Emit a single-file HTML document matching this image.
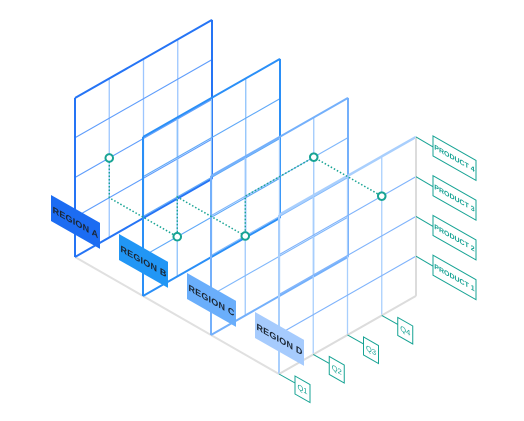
<!DOCTYPE html>
<html><head><meta charset="utf-8">
<style>
html,body{margin:0;padding:0;background:#fff;}
svg{display:block;font-family:"Liberation Sans",sans-serif;}
</style></head>
<body>
<svg id="chart" width="524" height="421" viewBox="0 0 524 421" xmlns="http://www.w3.org/2000/svg">
<g id="floor"></g>
<g id="panels"></g>
<g id="path"></g>
<g id="tags"></g>
<g id="axes"></g>
<g id="points"></g>
</svg>
<script>
const regions = ["REGION A","REGION B","REGION C","REGION D"];
const quarters = ["Q1","Q2","Q3","Q4"];
const products = ["PRODUCT 1","PRODUCT 2","PRODUCT 3","PRODUCT 4"];
// data points: region index, quarter index, product index
const ptRegion = [0,1,2,2,3];
const ptQuarter = [1,1,1,3,3];
const ptProduct = [1,0,1,2,2];

const frameCol = ["#2574f5","#2a8ff7","#74b0fb","#a9cffd"];
const innerColV = ["#9cc6ff","#8cc2fb","#9ec9fc","#a9cffd"];
const innerColH = ["#5f9dfb","#5ea8f8","#7fb7fb","#7fb3fb"];
const tagCol = ["#1c6cf2","#2196f5","#6aaefb","#a6cbfd"];
const teal = "#17a394";
const NS = "http://www.w3.org/2000/svg";
const X0=75, Y0=257, DX=68, DY=39, CW=34.25, SL=0.57, RH=39.75;
function P(n,u,v){return [X0+DX*n+CW*u, Y0+DY*n - SL*CW*u - RH*v];}
function el(tag,attrs,parent){const e=document.createElementNS(NS,tag);for(const k in attrs)e.setAttribute(k,attrs[k]);parent.appendChild(e);return e;}
function line(a,b,st,w,parent,extra){return el("line",Object.assign({x1:a[0],y1:a[1],x2:b[0],y2:b[1],stroke:st,"stroke-width":w},extra||{}),parent);}

const floor=document.getElementById("floor");
const fl=line(P(0,0,0),P(3,0,0),"#e0e0e0",2,floor);



const panels=document.getElementById("panels");
regions.forEach((r,n)=>{
  const g=el("g",{},panels);
  
  
  for(let u=1;u<4;u++) line(P(n,u,0),P(n,u,4),innerColV[n],1.3,g);
  for(let v=1;v<4;v++) line(P(n,0,v),P(n,4,v),innerColH[n],1.1,g);
  const last=n==3;
  line(P(n,0,0),P(n,0,4),frameCol[n],2,g);
  line(P(n,0,4),P(n,4,4),frameCol[n],last?2.5:2,g);
  line(P(n,4,0),P(n,4,4),last?"#dcdcdc":frameCol[n],2,g);
  line(P(n,0,0),P(n,4,0),last?"#dcdcdc":frameCol[n],2,g);
});

const pts=ptRegion.map((r,i)=>[r,ptQuarter[i],ptProduct[i]+1]);
let cur=pts[0];
let d="M"+P(cur[0],cur[1],cur[2]).join(",");
for(let i=1;i<pts.length;i++){
  const nx=pts[i];
  let c=[cur[0],cur[1],cur[2]];
  c[2]=nx[2]; d+=" L"+P(c[0],c[1],c[2]).join(",");
  c[1]=nx[1]; d+=" L"+P(c[0],c[1],c[2]).join(",");
  c[0]=nx[0]; d+=" L"+P(c[0],c[1],c[2]).join(",");
  cur=nx;
}
const pth=el("path",{d:d,fill:"none",stroke:teal,"stroke-width":1.5,"stroke-dasharray":"1.5,2"},document.getElementById("path"));



const tags=document.getElementById("tags");
regions.forEach((r,n)=>{
  const x=51+DX*n, y=195+DY*n, w=49, h=26;
  const g=el("g",{},tags);
  
  
  el("polygon",{points:`${x},${y} ${x+w},${y+w*SL} ${x+w},${y+w*SL+h} ${x},${y+h}`,fill:tagCol[n]},g);
  const t=el("text",{transform:`matrix(1,${SL},0,1,${x+w/2},${y+h/2+w/2*SL+3.5})`,"text-anchor":"middle","font-size":"9","font-weight":"bold","fill":"#1b2633","letter-spacing":"0.2"},g);
  t.textContent=r;
});

const axes=document.getElementById("axes");
quarters.forEach((q,u)=>{
  const b=P(3,u,0);
  const g=el("g",{},axes);
  
  
  line(b,[b[0]+16,b[1]+9],teal,1,g);
  const x=b[0]+16,y=b[1]+2,w=15,h=18;
  el("polygon",{points:`${x},${y} ${x+w},${y+w*SL} ${x+w},${y+w*SL+h} ${x},${y+h}`,fill:"#fff",stroke:teal,"stroke-width":1},g);
  const t=el("text",{transform:`matrix(1,${SL},0,1,${x+w/2},${y+h/2+w/2*SL+2.5})`,"text-anchor":"middle","font-size":"7.5","fill":teal},g);
  t.textContent=q;
});
products.forEach((p,i)=>{
  const b=P(3,4,i+1);
  const g=el("g",{},axes);
  
  
  line(b,[b[0]+17,b[1]+10],teal,1,g);
  const x=b[0]+17,y=b[1]-1,w=43,h=20;
  el("polygon",{points:`${x},${y} ${x+w},${y+w*SL} ${x+w},${y+w*SL+h} ${x},${y+h}`,fill:"#fff",stroke:teal,"stroke-width":1},g);
  const t=el("text",{transform:`matrix(1,${SL},0,1,${x+w/2},${y+h/2+w/2*SL+2.5})`,"text-anchor":"middle","font-size":"7","font-weight":"bold","fill":teal},g);
  t.textContent=p;
});

const pg=document.getElementById("points");
pts.forEach((p,i)=>{
  const c=P(p[0],p[1],p[2]);
  const e=el("circle",{cx:c[0],cy:c[1],r:3.8,fill:"#fff",stroke:teal,"stroke-width":2},pg);
  
  
});
</script>
</body></html>
